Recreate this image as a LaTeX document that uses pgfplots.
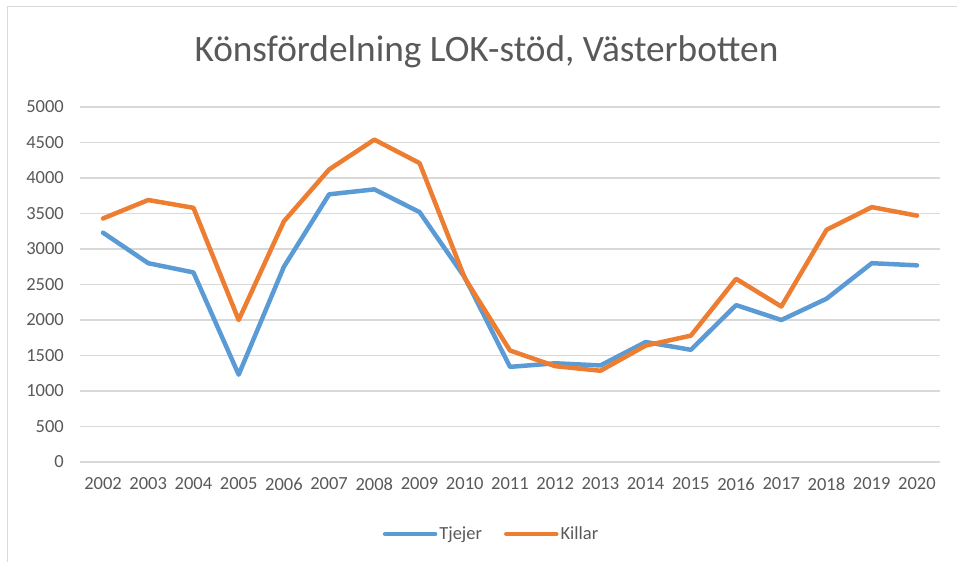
\documentclass[border=0pt]{standalone}
\usepackage{fontspec}
\setmainfont{Carlito}
\usepackage{pgfplots}
\pgfplotsset{compat=1.18}

\definecolor{tjejer}{HTML}{5B9BD5}
\definecolor{killar}{HTML}{ED7D31}
\definecolor{gridgray}{HTML}{D9D9D9}
\definecolor{txtgray}{HTML}{595959}

\begin{document}
\begin{tikzpicture}
\useasboundingbox (0pt,0pt) rectangle (957pt,562pt);
% chart frame (cut off on the right and bottom)
\draw[gridgray,line width=1pt] (7pt,0pt) -- (7pt,555pt) -- (960pt,555pt);
\node[text=txtgray,font=\fontsize{37.3}{40}\selectfont] at (486.5pt,510pt) {Könsfördelning LOK-stöd, Västerbotten};
\begin{axis}[at={(80.4pt,100pt)},anchor=south west,scale only axis,
  width=859.2pt,height=355pt,
  xmin=2001.5,xmax=2020.5,ymin=0,ymax=5000,
  xtick={2002,...,2020},ytick={0,500,...,5000},
  ymajorgrids,grid style={gridgray,line width=1.3pt},
  axis line style={draw=none},major tick length=0pt,
  tick label style={font=\fontsize{18.5}{20}\selectfont,text=txtgray},
  /pgf/number format/assume math mode=true,
  xticklabel style={/pgf/number format/1000 sep={},yshift=-12pt},
  yticklabel style={/pgf/number format/1000 sep={},xshift=-13pt},
  legend columns=2,
  legend style={at={(0.4785,-0.203)},anchor=center,draw=none,fill=none,
    font=\fontsize{18.5}{20}\selectfont,text=txtgray,
    /tikz/every even column/.style={column sep=20pt},
    nodes={inner xsep=2pt,inner ysep=1pt}},
  legend image code/.code={\draw[#1,line width=4.5pt,line cap=round] (0pt,0pt) -- (50pt,0pt);},
  every axis plot/.append style={line width=4.5pt,line cap=round,line join=round}]
\addplot[tjejer] coordinates {(2002,3230) (2003,2800) (2004,2670) (2005,1230) (2006,2750) (2007,3770) (2008,3840) (2009,3520) (2010,2600) (2011,1340) (2012,1390) (2013,1360) (2014,1690) (2015,1580) (2016,2210) (2017,2000) (2018,2300) (2019,2800) (2020,2770)};
\addlegendentry{Tjejer}
\addplot[killar] coordinates {(2002,3430) (2003,3690) (2004,3580) (2005,2000) (2006,3390) (2007,4120) (2008,4540) (2009,4210) (2010,2590) (2011,1570) (2012,1350) (2013,1285) (2014,1640) (2015,1780) (2016,2580) (2017,2190) (2018,3270) (2019,3590) (2020,3470)};
\addlegendentry{Killar}
\end{axis}
\end{tikzpicture}
\end{document}
